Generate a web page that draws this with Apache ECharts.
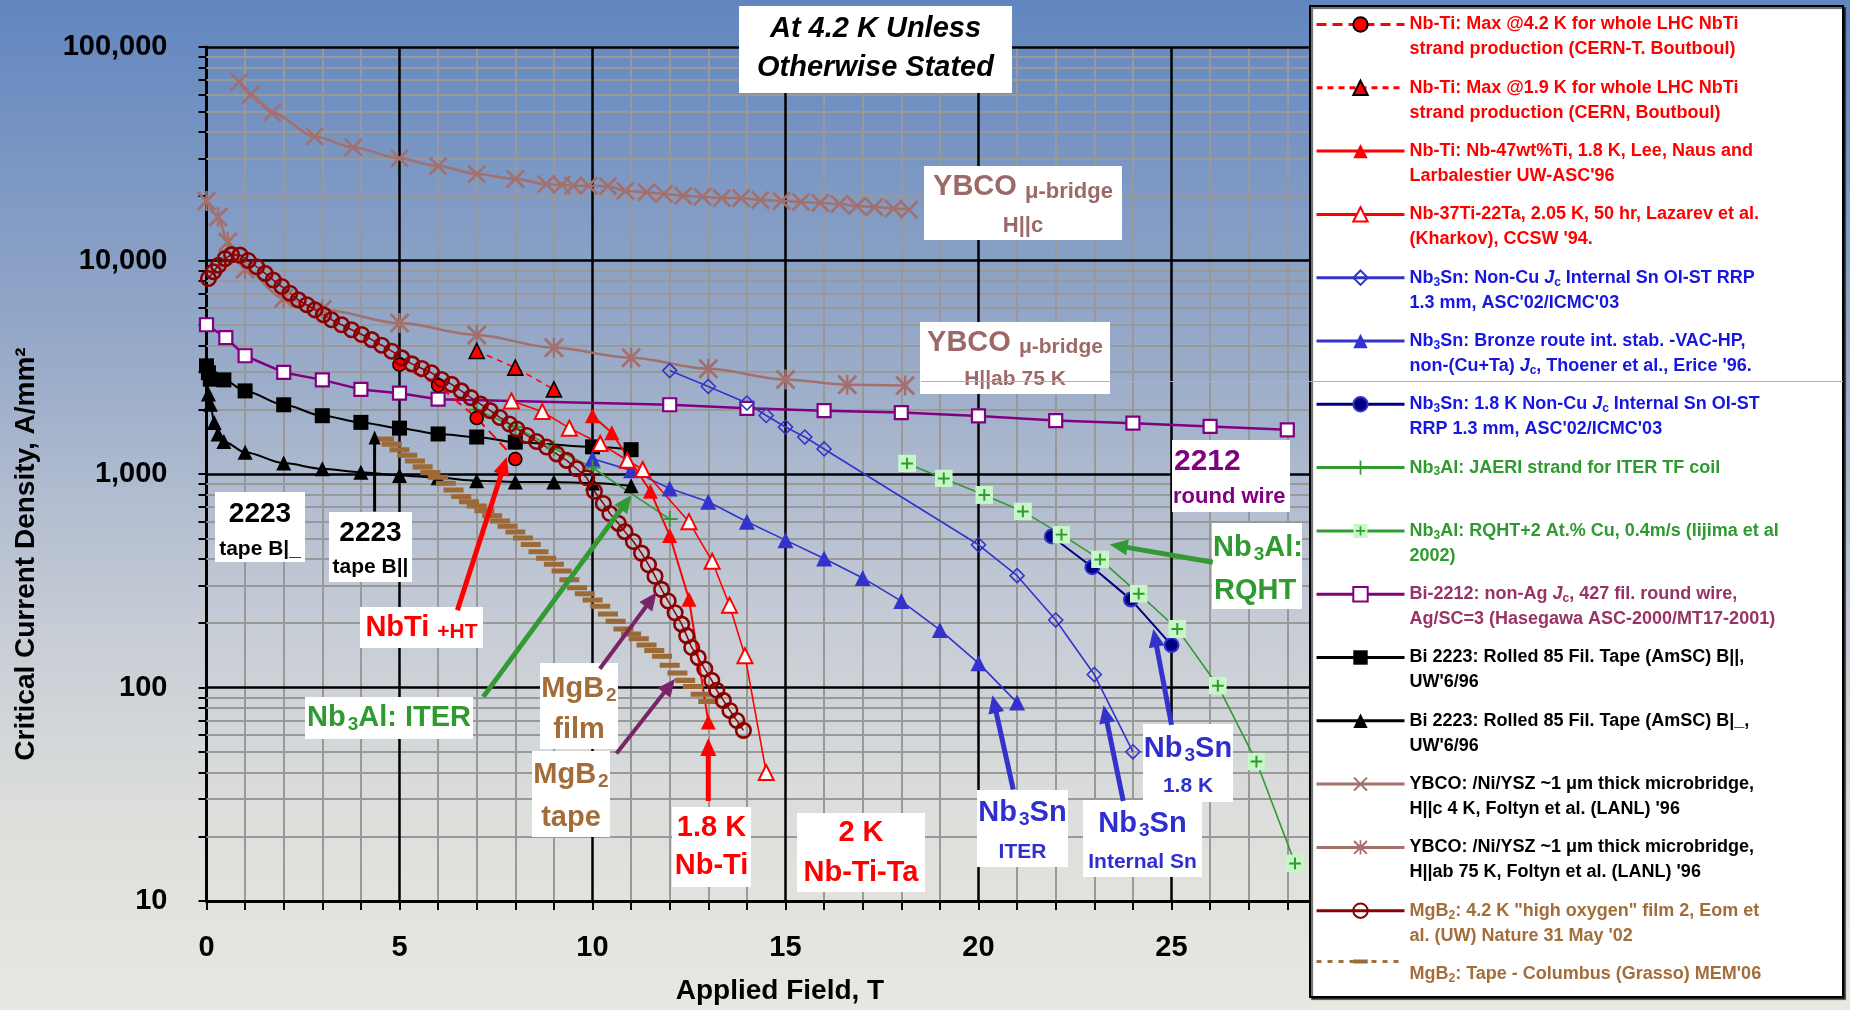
<!DOCTYPE html>
<html><head><meta charset="utf-8">
<script src="https://cdn.jsdelivr.net/npm/echarts@6/dist/echarts.min.js"></script>
<style>html,body{margin:0;padding:0;background:#fff;}#c{width:1850px;height:1010px;}</style>
</head><body><div id="c"></div>
<script>
// ================= DATA =================
// Applied field B [T] and critical current density Jc [A/mm^2]
const nbti42_B = [5, 6, 7, 8];
const nbti42_J = [3250, 2600, 1830, 1175];
const nbti19_B = [7, 8, 9];
const nbti19_J = [3770, 3150, 2490];
const nbti47_B = [10, 10.5, 11.5, 12, 12.5, 13];
const nbti47_J = [1875, 1560, 830, 515, 259, 69];
const nbtita_B = [7.9, 8.7, 9.4, 10.2, 10.9, 11.3, 12.5, 13.1, 13.55, 13.95, 14.5];
const nbtita_J = [2200, 1960, 1640, 1390, 1160, 1050, 598, 390, 243, 141, 40];
const rrp_B = [12, 13, 14, 14.5, 15, 15.5, 16, 20, 21, 22, 23, 24];
const rrp_J = [3050, 2570, 2150, 1880, 1660, 1490, 1310, 466, 334, 207, 115, 50];
const bronze_B = [10, 11, 12, 13, 14, 15, 16, 17, 18, 19, 20, 21];
const bronze_J = [1180, 1040, 856, 741, 598, 490, 402, 326, 254, 186, 130, 85];
const rrp18_B = [21.9, 22.95, 23.95, 25];
const rrp18_J = [510, 366, 258, 158];
const jaeri_B = [7, 8, 9, 10, 12];
const jaeri_J = [2000, 1660, 1320, 1070, 615];
const rqht_B = [18.15, 19.1, 20.15, 21.15, 22.15, 23.15, 24.15, 25.15, 26.2, 27.2, 28.2];
const rqht_J = [1120, 953, 798, 668, 520, 398, 275, 188, 102, 45, 15];
const bi2212_B = [0, 0.5, 1, 2, 3, 4, 5, 6, 12, 14, 16, 18, 20, 22, 24, 26, 28];
const bi2212_J = [5000, 4350, 3580, 2990, 2760, 2490, 2390, 2240, 2110, 2030, 1980, 1940, 1870, 1780, 1730, 1670, 1610];
const bi2223par_B = [0, 0.05, 0.1, 0.45, 1, 2, 3, 4, 5, 6, 7, 8, 10, 11];
const bi2223par_J = [3210, 2980, 2780, 2760, 2450, 2110, 1875, 1745, 1640, 1540, 1490, 1410, 1340, 1300];
const bi2223perp_B = [0, 0.05, 0.1, 0.2, 0.3, 0.45, 1, 2, 3, 4, 5, 6, 7, 8, 9, 10, 11];
const bi2223perp_J = [3250, 2370, 2120, 1745, 1540, 1420, 1265, 1125, 1058, 1020, 985, 960, 930, 918, 918, 908, 880];
const ybcoC_B = [0.85, 1.15, 1.7, 2.8, 3.8, 5, 6, 7, 8, 8.8, 9.2, 9.5, 9.9, 10.4, 10.85, 11.4, 11.85, 12.35, 12.85, 13.35, 13.85, 14.35, 14.9, 15.4, 15.9, 16.4, 16.85, 17.3, 17.8, 18.2];
const ybcoC_J = [68700, 59800, 49300, 38100, 33900, 30100, 27700, 25400, 24100, 22800, 22600, 22400, 22400, 22300, 21200, 20900, 20500, 20100, 19900, 19600, 19600, 19200, 19000, 18800, 18600, 18400, 18000, 17800, 17500, 17300];
const ybcoAB_B = [0, 0.3, 0.55, 1, 2, 3, 5, 7, 9, 11, 13, 15, 16.6, 18.1];
const ybcoAB_J = [19000, 16000, 12200, 9100, 6650, 5900, 5090, 4480, 3900, 3500, 3110, 2770, 2620, 2600];
const film_B = [0.05, 0.18, 0.31, 0.48, 0.65, 0.87, 1.08, 1.3, 1.52, 1.73, 1.95, 2.16, 2.38, 2.6, 2.81, 3.03, 3.24, 3.5, 3.76, 4.02, 4.28, 4.54, 4.8, 5.06, 5.32, 5.58, 5.83, 6.09, 6.35, 6.6, 6.85, 7.1, 7.35, 7.6, 7.85, 8.04, 8.3, 8.55, 8.81, 9.07, 9.33, 9.59, 9.85, 10.05, 10.28, 10.45, 10.67, 10.84, 11.06, 11.27, 11.45, 11.62, 11.79, 11.96, 12.14, 12.31, 12.44, 12.57, 12.74, 12.91, 13.09, 13.22, 13.39, 13.56, 13.74, 13.91];
const film_J = [8240, 8860, 9500, 10200, 10650, 10600, 10000, 9350, 8700, 8100, 7550, 7030, 6540, 6200, 5880, 5570, 5280, 5000, 4740, 4500, 4260, 4010, 3760, 3500, 3280, 3120, 2980, 2770, 2630, 2450, 2280, 2125, 1980, 1840, 1715, 1625, 1515, 1420, 1337, 1243, 1158, 1058, 960, 830, 728, 653, 587, 537, 483, 426, 376, 332, 288, 254, 224, 198, 175, 154, 138, 122, 108, 97, 87, 78, 70, 63];
const tape_B = [4.6, 4.8, 5.0, 5.2, 5.4, 5.6, 5.8, 6.0, 6.2, 6.4, 6.6, 6.8, 7.0, 7.2, 7.4, 7.6, 7.8, 8.0, 8.2, 8.4, 8.6, 8.8, 9.0, 9.2, 9.4, 9.6, 9.8, 10.0, 10.2, 10.4, 10.6, 10.8, 11.0, 11.2, 11.4, 11.6, 11.8, 12.0, 12.2, 12.4, 12.6, 12.8, 13.0];
const tape_J = [1460, 1380, 1300, 1225, 1150, 1080, 1016, 966, 906, 841, 785, 741, 708, 673, 638, 603, 569, 535, 501, 468, 432, 403, 378, 351, 320, 293, 275, 257, 240, 221, 204, 188, 178, 169, 158, 149, 140, 127, 117, 108, 101, 93, 86];

// axis ticks
const yDecades = [10, 100, 1000, 10000, 100000];
const yMinorSteps = [2, 3, 4, 5, 6, 7, 8, 9];
const xMajorLines = [5, 10, 15, 20, 25];

// ================= STYLE / LAYOUT =================
const FONT = '"Liberation Sans", Arial, Helvetica, sans-serif';
const RED = '#ff0000', BLUE = '#3333cc', NAVY = '#000080', GREEN = '#339933', PURPLE = '#800080',
      YB = '#a3706d', FILM = '#8b0000', BROWN = '#a0703a';
const X_PATH = 'path://M0,1 L1,0 L5,4 L9,0 L10,1 L6,5 L10,9 L9,10 L5,6 L1,10 L0,9 L4,5 Z';
const AST_PATH = X_PATH + ' M4.4,0 L5.6,0 L5.6,10 L4.4,10 Z';
const PLUS_PATH = 'path://M4.4,0 L5.6,0 L5.6,4.4 L10,4.4 L10,5.6 L5.6,5.6 L5.6,10 L4.4,10 L4.4,5.6 L0,5.6 L0,4.4 L4.4,4.4 Z';
// bar in a square bounding box (tiny corner specks keep the box square)
const DASH_PATH = 'path://M0,3.6 L10,3.6 L10,6.4 L0,6.4 Z M0,0 L0.01,0 L0,0.01 Z M10,10 L9.99,10 L10,9.99 Z';
const RQHT_SVG = "<svg xmlns='http://www.w3.org/2000/svg' width='20' height='20'><rect x='0' y='0' width='20' height='20' fill='#c6f7c6'/><path d='M10 3.5V16.5M3.5 10H16.5' stroke='#2f9a2f' stroke-width='2.2'/></svg>";
const RQHT_SYM = 'image://data:image/svg+xml;charset=utf-8,' + encodeURIComponent(RQHT_SVG);

const pts = (xs, ys) => xs.map((x, i) => [x, ys[i]]);

const N = {
  nbti42: 'Nb-Ti: Max @4.2 K for whole LHC NbTi strand production (CERN-T. Boutboul)',
  nbti19: 'Nb-Ti: Max @1.9 K for whole LHC NbTi strand production (CERN, Boutboul)',
  nbti47: "Nb-Ti: Nb-47wt%Ti, 1.8 K, Lee, Naus and Larbalestier UW-ASC'96",
  nbtita: "Nb-37Ti-22Ta, 2.05 K, 50 hr, Lazarev et al. (Kharkov), CCSW '94.",
  rrp: "Nb3Sn: Non-Cu Jc Internal Sn OI-ST RRP 1.3 mm, ASC'02/ICMC'03",
  bronze: "Nb3Sn: Bronze route int. stab. -VAC-HP, non-(Cu+Ta) Jc, Thoener et al., Erice '96.",
  rrp18: "Nb3Sn: 1.8 K Non-Cu Jc Internal Sn OI-ST RRP 1.3 mm, ASC'02/ICMC'03",
  jaeri: 'Nb3Al: JAERI strand for ITER TF coil',
  rqht: 'Nb3Al: RQHT+2 At.% Cu, 0.4m/s (Iijima et al 2002)',
  bi2212: 'Bi-2212: non-Ag Jc, 427 fil. round wire, Ag/SC=3 (Hasegawa ASC-2000/MT17-2001)',
  bipar: "Bi 2223: Rolled 85 Fil. Tape (AmSC) B||, UW'6/96",
  biperp: "Bi 2223: Rolled 85 Fil. Tape (AmSC) B|_, UW'6/96",
  ybc: "YBCO: /Ni/YSZ ~1 μm thick microbridge, H||c 4 K, Foltyn et al. (LANL) '96",
  ybab: "YBCO: /Ni/YSZ ~1 μm thick microbridge, H||ab 75 K, Foltyn et al. (LANL) '96",
  film: "MgB2: 4.2 K \"high oxygen\" film 2, Eom et al. (UW) Nature 31 May '02",
  tape: "MgB2: Tape - Columbus (Grasso) MEM'06"
};
const LEG = {};
LEG[N.nbti42] = `Nb-Ti: Max @4.2 K for whole LHC NbTi\nstrand production (CERN-T. Boutboul)`;
LEG[N.nbti19] = `Nb-Ti: Max @1.9 K for whole LHC NbTi\nstrand production (CERN, Boutboul)`;
LEG[N.nbti47] = `Nb-Ti: Nb-47wt%Ti, 1.8 K, Lee, Naus and\nLarbalestier UW-ASC'96`;
LEG[N.nbtita] = `Nb-37Ti-22Ta, 2.05 K, 50 hr, Lazarev et al.\n(Kharkov), CCSW '94.`;
LEG[N.rrp] = `Nb{s|3}Sn: Non-Cu {i|J}{s|c} Internal Sn OI-ST RRP\n1.3 mm, ASC'02/ICMC'03`;
LEG[N.bronze] = `Nb{s|3}Sn: Bronze route int. stab. -VAC-HP,\nnon-(Cu+Ta) {i|J}{s|c}, Thoener et al., Erice '96.`;
LEG[N.rrp18] = `Nb{s|3}Sn: 1.8 K Non-Cu {i|J}{s|c} Internal Sn OI-ST\nRRP 1.3 mm, ASC'02/ICMC'03`;
LEG[N.jaeri] = `Nb{s|3}Al: JAERI strand for ITER TF coil\n `;
LEG[N.rqht] = `Nb{s|3}Al: RQHT+2 At.% Cu, 0.4m/s (Iijima et al\n2002)`;
LEG[N.bi2212] = `Bi-2212: non-Ag {i|J}{s|c}, 427 fil. round wire,\nAg/SC=3 (Hasegawa ASC-2000/MT17-2001)`;
LEG[N.bipar] = `Bi 2223: Rolled 85 Fil. Tape (AmSC) B||,\nUW'6/96`;
LEG[N.biperp] = `Bi 2223: Rolled 85 Fil. Tape (AmSC) B|_,\nUW'6/96`;
LEG[N.ybc] = `YBCO: /Ni/YSZ ~1 μm thick microbridge,\nH||c 4 K, Foltyn et al. (LANL) '96`;
LEG[N.ybab] = `YBCO: /Ni/YSZ ~1 μm thick microbridge,\nH||ab 75 K, Foltyn et al. (LANL) '96`;
LEG[N.film] = `MgB{s|2}: 4.2 K "high oxygen" film 2, Eom et\nal. (UW) Nature 31 May '02`;
LEG[N.tape] = `MgB{s|2}: Tape - Columbus (Grasso) MEM'06`;

const LEG_COL = {};
[N.nbti42, N.nbti19, N.nbti47, N.nbtita].forEach(n => LEG_COL[n] = '#ff0000');
[N.rrp, N.bronze, N.rrp18].forEach(n => LEG_COL[n] = '#1717e0');
[N.jaeri, N.rqht].forEach(n => LEG_COL[n] = '#2f9a2f');
LEG_COL[N.bi2212] = '#993366';
[N.bipar, N.biperp, N.ybc, N.ybab].forEach(n => LEG_COL[n] = '#000000');
[N.film, N.tape].forEach(n => LEG_COL[n] = '#a26d38');
const LEG_ORDER = [N.nbti42, N.nbti19, N.nbti47, N.nbtita, N.rrp, N.bronze, N.rrp18, N.jaeri, N.rqht, N.bi2212, N.bipar, N.biperp, N.ybc, N.ybab, N.film, N.tape];

function line(name, xs, ys, o) {
  return Object.assign({ type: 'line', name, data: pts(xs, ys), showAllSymbol: true, animation: false, silent: true }, o);
}

// grid lines (drawn through axis scales via markLine)
const gridLineData = [];
yDecades.slice(0, -1).forEach(d => yMinorSteps.forEach(k => gridLineData.push({ yAxis: d * k, lineStyle: { color: '#999999', width: 2, type: 'solid' } })));
yDecades.slice(1).forEach(d => gridLineData.push({ yAxis: d, lineStyle: { color: '#000000', width: 2.5, type: 'solid' } }));
xMajorLines.forEach(v => gridLineData.push({ xAxis: v, lineStyle: { color: '#000000', width: 2.5, type: 'solid' } }));
const yTickValues = [];
yDecades.forEach((d, i) => { yTickValues.push(d); if (i < yDecades.length - 1) yMinorSteps.forEach(k => yTickValues.push(d * k)); });

const series = [
  { type: 'line', name: '_grid', data: [], silent: true, z: 1, animation: false,
    markLine: { silent: true, z: 1, symbol: ['none', 'none'], animation: false, label: { show: false }, emphasis: { disabled: true }, data: gridLineData } },
  line(N.ybc, ybcoC_B, ybcoC_J, { symbol: X_PATH, symbolSize: 19, smooth: 0.3, smoothMonotone: 'x', itemStyle: { color: YB }, lineStyle: { color: YB, width: 2.5 } }),
  line(N.ybab, ybcoAB_B, ybcoAB_J, { symbol: AST_PATH, symbolSize: 20, smooth: 0.3, smoothMonotone: 'x', itemStyle: { color: YB }, lineStyle: { color: YB, width: 2.5 } }),
  line(N.bi2212, bi2212_B, bi2212_J, { symbol: 'rect', symbolSize: 13, itemStyle: { color: '#ffffff', borderColor: PURPLE, borderWidth: 2.2 }, lineStyle: { color: PURPLE, width: 2.5 } }),
  line(N.bipar, bi2223par_B, bi2223par_J, { symbol: 'rect', symbolSize: 15, smooth: 0.3, smoothMonotone: 'x', itemStyle: { color: '#000' }, lineStyle: { color: '#000', width: 2 } }),
  line(N.biperp, bi2223perp_B, bi2223perp_J, { symbol: 'triangle', symbolSize: 15, smooth: 0.3, smoothMonotone: 'x', itemStyle: { color: '#000' }, lineStyle: { color: '#000', width: 2 } }),
  line(N.rrp, rrp_B, rrp_J, { symbol: 'diamond', symbolSize: 14, itemStyle: { color: 'rgba(255,255,255,0)', borderColor: BLUE, borderWidth: 1.6 }, lineStyle: { color: BLUE, width: 1.6 } }),
  line(N.bronze, bronze_B, bronze_J, { symbol: 'triangle', symbolSize: 16, itemStyle: { color: BLUE }, lineStyle: { color: BLUE, width: 1.6 } }),
  line(N.rrp18, rrp18_B, rrp18_J, { symbol: 'circle', symbolSize: 14, itemStyle: { color: NAVY, borderColor: BLUE, borderWidth: 2 }, lineStyle: { color: NAVY, width: 2 } }),
  line(N.jaeri, jaeri_B, jaeri_J, { symbol: PLUS_PATH, symbolSize: 16, itemStyle: { color: GREEN }, lineStyle: { color: GREEN, width: 1.6 } }),
  line(N.rqht, rqht_B, rqht_J, { symbol: RQHT_SYM, symbolSize: 18, itemStyle: { color: GREEN }, lineStyle: { color: GREEN, width: 1.6 } }),
  line(N.tape, tape_B, tape_J, { symbol: DASH_PATH, symbolSize: [20, 18], itemStyle: { color: '#9c6a36' }, lineStyle: { color: BROWN, width: 2, opacity: 0 } }),
  line(N.nbtita, nbtita_B, nbtita_J, { symbol: 'triangle', symbolSize: 15, itemStyle: { color: '#ffffff', borderColor: RED, borderWidth: 2 }, lineStyle: { color: RED, width: 1.6 } }),
  line(N.nbti47, nbti47_B, nbti47_J, { symbol: 'triangle', symbolSize: 15, itemStyle: { color: RED }, lineStyle: { color: RED, width: 2 } }),
  line(N.nbti42, nbti42_B, nbti42_J, { symbol: 'circle', symbolSize: 13, itemStyle: { color: RED, borderColor: '#000', borderWidth: 1.6 }, lineStyle: { color: RED, width: 2, type: [10, 6] } }),
  line(N.nbti19, nbti19_B, nbti19_J, { symbol: 'triangle', symbolSize: 15, itemStyle: { color: RED, borderColor: '#000', borderWidth: 1.6 }, lineStyle: { color: RED, width: 1.5, type: [6, 5] } }),
  line(N.film, film_B, film_J, { symbol: 'circle', symbolSize: 14.5, itemStyle: { color: 'rgba(255,255,255,0)', borderColor: FILM, borderWidth: 2.6 }, lineStyle: { color: FILM, width: 1.5 } })
];

const labFont = { color: '#000', fontSize: 29, fontWeight: 'bold', fontFamily: FONT };
const fmtY = v => String(Math.round(v)).replace(/\B(?=(\d{3})+(?!\d))/g, ',');

const RICH_LEG = {
  s: { fontSize: 12, fontWeight: 'bold', fontFamily: FONT, padding: [9, 0, 0, 0] },
  i: { fontSize: 18, fontWeight: 'bold', fontStyle: 'italic', fontFamily: FONT }
};

const option = {
  animation: false,
  backgroundColor: new echarts.graphic.LinearGradient(0, 0, 0, 1, [
    { offset: 0, color: '#6186bf' }, { offset: 0.35, color: '#98aac8' }, { offset: 0.6, color: '#c4cad5' },
    { offset: 0.8, color: '#dcdedb' }, { offset: 1, color: '#e8e8e2' }]),
  textStyle: { fontFamily: FONT, fontWeight: 'bold' },
  grid: { left: 206.5, top: 47, right: 485.5, bottom: 103, containLabel: false },
  xAxis: {
    type: 'value', min: 0, max: 30, interval: 5,
    axisLine: { show: true, onZero: false, lineStyle: { color: '#000', width: 3 } },
    axisTick: { show: true, inside: false, length: 9, lineStyle: { color: '#000', width: 2 } },
    minorTick: { show: true, splitNumber: 5, length: 9, lineStyle: { color: '#000', width: 2 } },
    splitLine: { show: false },
    minorSplitLine: { show: true, lineStyle: { color: '#999999', width: 2 } },
    axisLabel: Object.assign({ margin: 32, formatter: v => (v % 5 === 0 && v < 30) ? String(v) : '' }, labFont),
    name: 'Applied Field, T', nameLocation: 'middle', nameGap: 76,
    nameTextStyle: { color: '#000', fontSize: 28, fontWeight: 'bold', fontFamily: FONT, padding: [0, 11, 0, 0] }
  },
  yAxis: {
    type: 'log', logBase: 10, min: 10, max: 100000,
    axisLine: { show: true, onZero: false, lineStyle: { color: '#000', width: 3 } },
    axisTick: { show: true, inside: false, length: 8, lineStyle: { color: '#000', width: 2 }, customValues: yTickValues },
    minorTick: { show: false },
    splitLine: { show: false },
    axisLabel: Object.assign({ margin: 39, customValues: yDecades, formatter: fmtY }, labFont),
    name: 'Critical Current Density, A/mm²', nameLocation: 'middle', nameGap: 166, nameRotate: 90,
    nameTextStyle: { color: '#000', fontSize: 28, fontWeight: 'bold', fontFamily: FONT, padding: [0, 160, 0, 0] }
  },
  legend: {
    show: true, orient: 'vertical', left: 1315, top: -13, height: 1045, padding: 0, itemGap: -11.7,
    itemWidth: 88, itemHeight: 18, selectedMode: false, z: 6,
    lineStyle: { width: 3 },
    textStyle: { fontSize: 18, fontWeight: 'bold', fontFamily: FONT, lineHeight: 25, padding: [25, 0, 0, 0], rich: RICH_LEG },
    formatter: n => LEG[n] || n,
    data: LEG_ORDER.map(n => {
      const o = { name: n, textStyle: { color: LEG_COL[n] } };
      if (n === N.tape) o.lineStyle = { opacity: 1, type: [5, 6], width: 3, color: BROWN };
      return o;
    })
  },
  series
};

const chart = echarts.init(document.getElementById('c'), null, { renderer: 'canvas', width: 1850, height: 1010 });
chart.setOption(option);

// ================= ANNOTATIONS (anchored in data coordinates) =================
const RICH_ANN = {
  s: { fontSize: 19, fontWeight: 'bold', fontFamily: FONT, padding: [14, 0, 0, 2] },
  m: { fontSize: 22, fontWeight: 'bold', fontFamily: FONT, padding: [9, 0, 0, 0] },
  n: { fontSize: 21, fontWeight: 'bold', fontFamily: FONT, padding: [9, 0, 0, 0] }
};
const YC = '#9c6868', BL = '#2f2fd0', GR = '#2f9a2f', BR = '#a26d38';
const boxes = [
  { x: 13.8, y: 155400, w: 273, h: 87, c: '#000', lines: [
    { t: 'At 4.2 K Unless', dy: 23, it: true }, { t: 'Otherwise Stated', dy: 62, it: true }] },
  { x: 18.59, y: 27800, w: 198, h: 74, c: YC, lines: [
    { t: 'YBCO {m|μ-bridge}', dy: 21 }, { t: 'H||c', dy: 60, fs: 22 }] },
  { x: 18.48, y: 5165, w: 190, h: 72, c: YC, lines: [
    { t: 'YBCO {n|μ-bridge}', dy: 21 }, { t: 'H||ab 75 K', dy: 57, fs: 21 }] },
  { x: 25.0, y: 1450, w: 118, h: 72, c: PURPLE, lines: [
    { t: '2212', dy: 22, al: 'left', dx: 2, fs: 30 }, { t: 'round wire', dy: 57, al: 'left', dx: 1, fs: 22 }] },
  { x: 26.05, y: 589, w: 90, h: 86, c: GR, lines: [
    { t: 'Nb{s|3}Al:', dy: 25, al: 'left', dx: 1 }, { t: 'RQHT', dy: 68, al: 'left', dx: 2 }] },
  { x: 0.22, y: 822, w: 90, h: 70, c: '#000', lines: [
    { t: '2223', dy: 22, fs: 28 }, { t: 'tape B|_', dy: 57, fs: 21 }] },
  { x: 3.175, y: 661, w: 83, h: 70, c: '#000', lines: [
    { t: '2223', dy: 21, fs: 28 }, { t: 'tape B||', dy: 55, fs: 21 }] },
  { x: 3.97, y: 237, w: 123, h: 41, c: RED, lines: [{ t: 'NbTi {n|+HT}', dy: 21 }] },
  { x: 2.56, y: 90, w: 168, h: 42, c: GR, lines: [{ t: 'Nb{s|3}Al: ITER', dy: 21 }] },
  { x: 8.64, y: 130.6, w: 78, h: 86, c: BR, lines: [{ t: 'MgB{s|2}', dy: 26 }, { t: 'film', dy: 67 }] },
  { x: 8.42, y: 50.5, w: 78, h: 86, c: BR, lines: [{ t: 'MgB{s|2}', dy: 24 }, { t: 'tape', dy: 67 }] },
  { x: 12.07, y: 27.7, w: 79, h: 80, c: RED, lines: [{ t: '1.8 K', dy: 21 }, { t: 'Nb-Ti', dy: 59 }] },
  { x: 15.31, y: 25.9, w: 128, h: 79, c: RED, lines: [{ t: '2 K', dy: 20 }, { t: 'Nb-Ti-Ta', dy: 60 }] },
  { x: 19.95, y: 33.1, w: 91, h: 77, c: BL, lines: [{ t: 'Nb{s|3}Sn', dy: 23 }, { t: 'ITER', dy: 62, fs: 21 }] },
  { x: 22.71, y: 29.6, w: 119, h: 77, c: BL, lines: [{ t: 'Nb{s|3}Sn', dy: 24 }, { t: 'Internal Sn', dy: 62, fs: 21 }] },
  { x: 24.26, y: 67.1, w: 90, h: 78, c: BL, lines: [{ t: 'Nb{s|3}Sn', dy: 25 }, { t: '1.8 K', dy: 62, fs: 21 }] }
];
const arrows = [
  { from: [4.355, 667], to: [4.355, 1600], c: '#000', w: 3, hl: 14, hw: 6 },
  { from: [6.5, 230], to: [7.78, 1200], c: RED, w: 5 },
  { from: [7.17, 90.4], to: [11.01, 798], c: GREEN, w: 5 },
  { from: [10.19, 122.5], to: [11.66, 279], c: '#7a2468', w: 4 },
  { from: [10.62, 49.1], to: [12.14, 109.9], c: '#7a2468', w: 4 },
  { from: [13.0, 29.4], to: [13.0, 58], c: RED, w: 5 },
  { from: [20.9, 33.3], to: [20.36, 92], c: BLUE, w: 5 },
  { from: [23.75, 29.4], to: [23.24, 82.6], c: BLUE, w: 5 },
  { from: [25.0, 66.8], to: [24.53, 188], c: BLUE, w: 5 },
  { from: [26.07, 386], to: [23.4, 468], c: GREEN, w: 5 }
];

function toPx(p) { return chart.convertToPixel({ xAxisIndex: 0, yAxisIndex: 0 }, p); }
function boxEl(b) {
  const p = toPx([b.x, b.y]);
  const children = [{ type: 'rect', shape: { x: 0, y: 0, width: b.w, height: b.h }, style: { fill: '#ffffff' }, z: 20 }];
  b.lines.forEach(l => children.push({
    type: 'text', x: (l.dx != null ? l.dx : b.w / 2), y: l.dy, z: 21,
    style: { text: l.t, fill: b.c, fontSize: l.fs || 29, fontWeight: 'bold', fontStyle: l.it ? 'italic' : 'normal',
      fontFamily: FONT, align: l.al || 'center', verticalAlign: 'middle', rich: RICH_ANN }
  }));
  return { type: 'group', x: Math.round(p[0]), y: Math.round(p[1]), silent: true, children };
}
function arrowEls(a) {
  const p0 = toPx(a.from), p1 = toPx(a.to);
  const dx = p1[0] - p0[0], dy = p1[1] - p0[1], L = Math.hypot(dx, dy), ux = dx / L, uy = dy / L;
  const hl = a.hl || 18, hw = a.hw || 8;
  const bx = p1[0] - ux * hl, by = p1[1] - uy * hl;
  return [
    { type: 'line', silent: true, z: 22, shape: { x1: p0[0], y1: p0[1], x2: bx + ux * 2, y2: by + uy * 2 }, style: { stroke: a.c, lineWidth: a.w } },
    { type: 'polygon', silent: true, z: 22, shape: { points: [[p1[0], p1[1]], [bx - uy * hw, by + ux * hw], [bx + uy * hw, by - ux * hw]] }, style: { fill: a.c } }
  ];
}
const els = [];
els.push({ type: 'rect', silent: true, z: 3, shape: { x: 1310, y: 6, width: 533, height: 991 },
  style: { fill: '#ffffff', stroke: '#000000', lineWidth: 2, shadowColor: 'rgba(0,0,0,0.6)', shadowOffsetX: 2, shadowOffsetY: 2, shadowBlur: 1 } });
boxes.forEach(b => els.push(boxEl(b)));
arrows.forEach(a => arrowEls(a).forEach(e => els.push(e)));
els.push({ type: 'line', silent: true, z: 30, shape: { x1: 921, y1: 381.5, x2: 1843, y2: 381.5 }, style: { stroke: '#9fb3d3', lineWidth: 1 } });
chart.setOption({ graphic: els });
</script>
</body></html>
